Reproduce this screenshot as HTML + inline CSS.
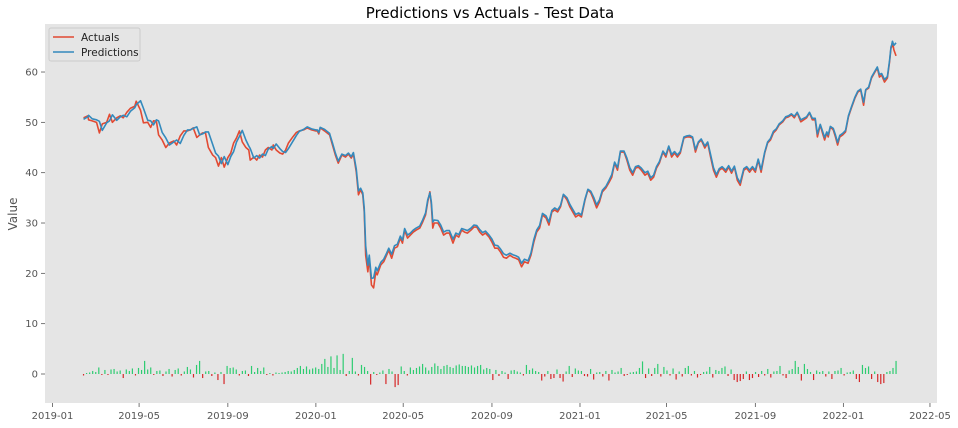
<!DOCTYPE html>
<html><head><meta charset="utf-8"><style>
html,body{margin:0;padding:0;background:#fff;}
svg{display:block;font-family:"DejaVu Sans","Liberation Sans",sans-serif;}
</style></head><body>
<svg id="chart" width="958" height="428">
<rect x="45" y="24" width="892" height="379" fill="#e5e5e5"/>
<text x="490" y="18" text-anchor="middle" font-size="15" fill="#000">Predictions vs Actuals - Test Data</text>
<text transform="translate(17,214) rotate(-90)" text-anchor="middle" font-size="12" fill="#555">Value</text>
<g id="resid"></g>
<g id="lines"></g>
<g id="yaxis"></g>
<g id="xaxis"></g>
<g>
<rect x="49" y="28" width="91" height="33" fill="#e5e5e5" stroke="#cccccc" stroke-width="1" rx="2"/>
<line x1="53" y1="37" x2="74" y2="37" stroke="#E24A33" stroke-width="1.6"/>
<text x="81" y="41" font-size="10.5" fill="#222">Actuals</text>
<line x1="53" y1="52" x2="74" y2="52" stroke="#348ABD" stroke-width="1.6"/>
<text x="81" y="56" font-size="10.5" fill="#222">Predictions</text>
</g>
</svg>
<script>
const startDate = "2019-02-13";
const endDate = "2022-03-15";
// days elapsed since startDate for each observation
const days = [0,6,7,12,18,22,26,32,36,40,46,51,55,60,65,71,73,79,83,89,93,97,101,104,109,114,119,125,129,134,139,144,148,152,157,161,165,169,173,179,183,187,191,195,200,204,208,212,216,220,225,229,231,236,240,244,248,252,256,261,263,267,272,276,280,284,290,295,299,305,310,316,322,
324,326,328,334,341,345,349,353,358,363,367,371,374,378,381,384,387,389,391,394,396,399,402,405,407,412,416,420,423,427,431,435,439,442,445,449,453,457,461,466,470,474,477,480,482,484,486,491,495,499,503,507,512,516,520,524,528,532,537,541,545,549,553,557,562,566,570,574,578,582,586,591,595,599,603,607,611,616,620,624,628,632,636,641,645,649,
653,657,661,665,670,674,678,682,686,690,695,699,703,707,711,715,719,724,728,732,736,740,744,749,753,757,761,765,769,773,778,782,786,790,794,798,803,807,811,815,819,823,827,832,836,840,844,848,852,856,861,865,869,873,877,881,885,890,894,898,902,906,910,915,919,923,927,931,935,939,944,948,952,956,960,964,969,
973,977,981,985,989,994,998,1002,1006,1010,1014,1017,1021,1024,1027,1030,1032,1035,1039,1042,1045,1048,1052,1056,1060,1064,1069,1073,1077,1081,1084,1088,1092,1096,1100,1103,1106,1110,1114,1117,1119,1120,1121,1123,1126];
const actuals = [50.9,51.3,50.5,50.3,50,47.9,49.7,50,51.6,50,50.9,51.3,50.9,52,52.8,53.2,54.2,52.4,49.9,50,49,50.3,50.2,47.5,46.5,45,45.9,46.3,45.5,47.3,48.3,48.3,48.5,48.9,47,47.5,47.9,47.9,45,43.5,43,41.3,43,41.1,43,43.9,45.9,46.9,48.3,46.1,45,44.5,42.5,43.1,42.5,43.5,43.1,44.5,45,44.5,45.5,44.5,43.9,43.7,44.5,45.9,47.1,48,48.3,48.5,48.9,48.5,48.3,48.3,47.7,48.9,48.3,47.5,45.5,43.5,41.9,43.5,43.1,43.7,42.9,43.7,40.1,35.6,36.6,35.6,32.2,23.6,20.3,23,17.7,17.1,20.3,19.7,21.7,22.3,23.6,24.6,23,25,25.3,27,26,28.6,27,27.6,28.2,28.6,29,30.2,31.6,34.2,36.2,33.6,29,30,30,29,27.6,28,28,26,27.6,27.2,28.6,28.2,28,28.6,29.2,29.2,28.2,27.6,28,27.2,26.2,25,25,24.2,23.2,23,23.6,23.2,23,22.7,21.3,22.3,22,23.6,26.2,28.2,29,31.6,31,29.6,32.2,32.6,32.2,33.2,35.6,34.6,33.2,32.2,31.2,31.6,31.2,34.6,36.6,36,34.6,33,34.2,36.2,37,38,39.1,41.9,40.5,44.1,44.1,42.5,40.5,39.5,40.9,41.1,40.5,39.5,39.9,38.5,39.1,40.9,41.9,44.1,43.1,45.1,43.1,43.9,43.1,43.9,46.9,47.1,47.1,46.9,44.1,45.9,46.5,44.9,45.9,43.1,40.5,39.1,40.5,40.9,40.1,41.1,39.9,41.1,38.5,37.5,40.5,40.9,40.1,40.9,40.1,42.5,40.1,43.9,45.9,46.5,47.9,48.5,49.5,50.1,50.9,51.1,51.5,50.9,51.9,50.1,50.5,50.9,51.9,50.5,50.5,47.1,49.5,47.9,46.5,47.9,47.1,49.1,48.5,47.1,45.5,47.1,47.5,48.1,51.1,52.8,54.8,56,56.4,53.4,56.4,56.8,58.8,59.8,60.8,59,59.4,58,58.8,62,64.8,65,66,64.4,63.2];
const predictions = [50.6,51.1,51.4,50.7,50.5,50.2,48.4,49.9,50.3,51.5,50.4,51.1,51.4,51.1,52.2,52.9,53.5,54.3,52.8,50.4,50.3,49.5,50.5,50.3,48,46.9,45.5,46.1,46.5,45.8,47.4,48.5,48.5,48.8,49.1,47.5,47.7,48.1,48.1,45.6,43.9,43.3,41.8,43.2,41.6,43.2,44.2,46.1,47.2,48.4,46.5,45.3,44.8,42.9,43.4,42.9,43.7,43.4,44.7,45.2,44.8,45.7,44.8,44.2,44,44.8,46.2,47.4,48.2,48.6,49.1,48.7,48.5,48.5,48,49,48.6,47.8,45.9,43.9,42.3,43.7,43.4,43.9,43.2,44,40.7,36.4,36.9,36,33,25.5,21.6,23.6,19,19.1,21.2,20.5,22.2,22.8,24,25,23.8,25.5,25.8,27.4,26.6,28.9,27.6,28,28.6,29,29.4,30.6,32,34.6,36,34.2,30.2,30.6,30.5,29.6,28.2,28.5,28.5,26.8,28,27.7,28.9,28.7,28.5,29,29.6,29.5,28.7,28.1,28.4,27.6,26.8,25.6,25.5,24.8,23.9,23.6,24,23.7,23.5,23.2,22,22.8,22.5,24,26.7,28.6,29.5,31.9,31.4,30.2,32.5,33,32.6,33.5,35.7,35,33.7,32.7,31.7,32,31.6,34.8,36.7,36.3,35.1,33.6,34.6,36.5,37.3,38.4,39.6,42.1,41,44.3,44.3,42.9,41,40,41.2,41.4,40.9,40,40.3,39,39.5,41.2,42.2,44.3,43.5,45.3,43.6,44.2,43.5,44.2,47.1,47.3,47.4,47.1,44.6,46.1,46.7,45.3,46.1,43.6,41,39.6,40.8,41.2,40.5,41.4,40.3,41.3,39,38,40.8,41.2,40.5,41.2,40.5,42.7,40.6,44.1,46.1,46.8,48.2,48.7,49.7,50.3,51.1,51.3,51.7,51.2,52,50.5,50.8,51.1,52,50.8,50.8,47.7,49.6,48.3,47,48.1,47.5,49.2,48.8,47.5,46,47.4,47.8,48.4,51.3,53,55,56.2,56.6,54,56.5,57,59,60,61,59.5,59.7,58.5,59.1,62.3,65,65.4,66.1,65.3,65.8];
const residuals = [-0.3,0.2,0.3,0.6,0.4,1.3,-0.2,0.8,-0.2,0.9,1,0.5,0.7,-0.8,0.9,0.6,1.1,-0.3,1.2,0.8,2.6,0.9,1.3,-0.2,0.6,0.7,-0.4,0.5,1.0,-0.5,0.8,1.1,-0.3,0.5,1.4,0.9,-0.7,1.8,2.6,-0.8,0.5,0.6,-0.4,0.3,-1.2,0.4,-2.0,1.6,1.2,1.3,0.9,-0.3,0.6,0.7,-0.4,1.6,0.4,1.2,0.6,1.3,-0.2,0.2,-0.3,0.3,0.2,0.3,0.4,0.6,0.5,0.8,1.2,1.6,1.0,1.5,0.9,1.1,1.3,1.0,2.0,3.0,1.4,3.5,1.2,3.7,0.8,4.0,-0.4,0.6,3.2,0.5,-0.3,1.8,1.4,0.6,-2.1,0.4,-0.2,0.3,0.7,-2.0,1.0,0.5,-2.6,-2.2,1.5,0.6,-0.3,1.3,0.8,1.2,1.5,2.0,1.3,0.7,1.4,2.1,1.6,1.0,1.6,1.8,1.4,1.2,1.7,1.9,1.6,1.6,1.4,1.7,1.3,1.6,1.8,0.9,1.2,1.0,-1.2,0.8,-0.4,0.6,0.3,-1.0,0.7,0.8,0.5,0.3,-0.3,1.8,0.8,1.1,0.6,0.4,-1.3,-0.5,0.6,-1.0,-0.8,0.9,-0.8,-1.5,0.5,1.6,-0.6,1.1,0.7,0.6,-0.4,-0.5,1.0,-1.1,0.3,0.4,-0.5,0.6,-1.3,0.8,0.3,0.5,1.2,-0.4,-0.2,0.3,0.4,0.5,1.2,2.5,-0.8,1.1,-0.4,1.2,2.0,-0.5,1.4,0.7,-0.3,1.1,-1.1,0.5,-0.5,1.2,1.6,-0.3,0.6,-0.7,-0.2,0.4,0.5,1.4,-0.7,0.8,0.6,1.2,1.5,-0.4,0.9,-1.2,-1.6,-1.4,-1.0,0.5,-1.2,-0.8,0.4,-0.6,0.6,-0.3,1.0,-0.7,0.5,0.6,1.6,-0.3,-0.8,0.7,1.0,2.6,1.4,-1.3,2.0,1.0,0.4,-1.2,0.7,0.4,0.6,-0.5,0.5,-1.0,0.6,0.7,1.2,-0.3,0.3,0.4,0.7,-1.0,-1.6,1.8,1.2,1.5,-1.0,0.5,-1.6,-2.0,-1.8,0.4,0.6,1.2,2.6];
const yTicks = [0,10,20,30,40,50,60];
const xTickLabels = ["2019-01","2019-05","2019-09","2020-01","2020-05","2020-09","2021-01","2021-05","2021-09","2022-01","2022-05"];

const NS = "http://www.w3.org/2000/svg";
const X0 = Date.UTC(2019,0,1), PX0 = 52.5, PXPERDAY = 0.7216, DAY = 86400000;
function xScale(t){ return PX0 + (t - X0)/DAY*PXPERDAY; }
function yScale(v){ return 374 - v*5.033; }
function parseDate(s){ const p=s.split("-").map(Number); return Date.UTC(p[0],p[1]-1,p[2]||1); }
const t0 = parseDate(startDate), t1 = parseDate(endDate);
function timeAt(i,n){ return t0 + (t1-t0)*i/(n-1); }
function obsTime(i){ return t0 + days[Math.min(i,days.length-1)]*DAY; }
function mk(tag, attrs, parent){ const e=document.createElementNS(NS,tag); for(const k in attrs) e.setAttribute(k,attrs[k]); parent.appendChild(e); return e; }

const resid = document.getElementById("resid");
residuals.forEach((r,i)=>{
  const x = xScale(timeAt(i,residuals.length));
  const y0 = yScale(0), y1 = yScale(r);
  const b = mk("rect",{x:(x-0.6).toFixed(2), y:Math.min(y0,y1).toFixed(2), width:1.2, height:Math.max(0.6,Math.abs(y1-y0)).toFixed(2), fill: r>=0 ? "#2ecc71" : "#d62728"}, resid);
  
  
});

const lines = document.getElementById("lines");
function drawLine(arr,color,name){
  const n = Math.min(arr.length, days.length);
  let d = "";
  for(let i=0;i<n;i++){ d += (i?"L":"M")+xScale(obsTime(i)).toFixed(2)+","+yScale(arr[i]).toFixed(2); }
  const p = mk("path",{d:d, fill:"none", stroke:color, "stroke-width":1.6, "stroke-linejoin":"round"}, lines);
  
  
}
drawLine(actuals,"#E24A33","actuals-line");
drawLine(predictions,"#348ABD","predictions-line");

const ya = document.getElementById("yaxis");
yTicks.forEach(v=>{
  const y = yScale(v);
  const l = mk("line",{x1:41,x2:45,y1:y,y2:y,stroke:"#555","stroke-width":0.8},ya);
  
  
  const t = mk("text",{x:38,y:y+3.5,"text-anchor":"end","font-size":10,fill:"#555"},ya);
  t.textContent = v;
  
  
});
const xa = document.getElementById("xaxis");
xTickLabels.forEach(s=>{
  const x = xScale(parseDate(s));
  const l = mk("line",{x1:x,x2:x,y1:403,y2:407,stroke:"#555","stroke-width":0.8},xa);
  
  
  const t = mk("text",{x:x,y:419,"text-anchor":"middle","font-size":10,fill:"#555"},xa);
  t.textContent = s;
  
  
});
</script>
</body></html>
